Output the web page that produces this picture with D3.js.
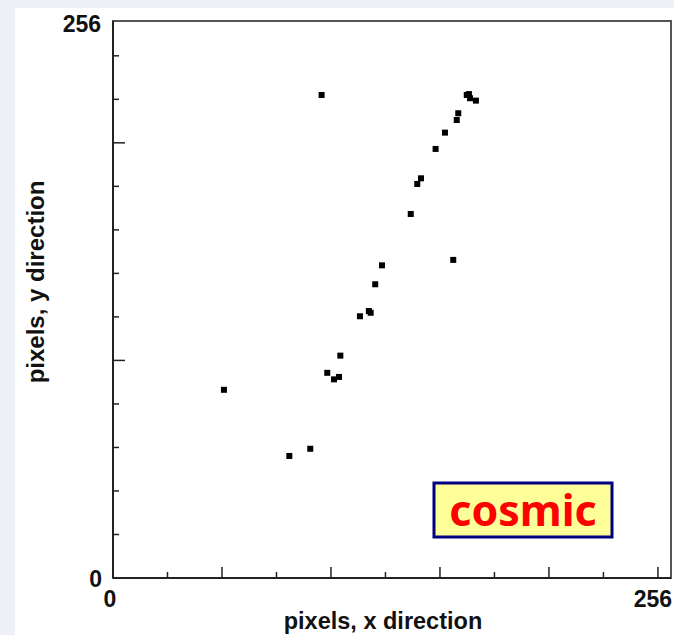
<!DOCTYPE html>
<html lang="en">
<head>
<meta charset="UTF-8">
<script src="https://cdn.jsdelivr.net/npm/d3@7"></script>
<style>
  body { margin: 0; background: #eef0f6; }
  .tick-label, .axis-title { font-family: "Liberation Sans", Arial, sans-serif; font-weight: bold; fill: #111; }
  .tag { font-family: "Noto Sans", "DejaVu Sans", sans-serif; font-weight: bold; fill: #ff0000; }
</style>
</head>
<body>
<script>
// hit positions (pixel units, 0..256)
var hitX = [95.7, 50.9, 80.9, 90.5, 98.3, 101.4, 103.7, 104.3, 113.3, 117.4, 118.2, 120.3,
            123.4, 136.6, 139.6, 141.3, 148.0, 152.3, 156.1, 157.7, 158.4, 162.3, 163.3, 163.8, 166.5];
var hitY = [222.0, 86.5, 56.1, 59.4, 94.3, 91.3, 92.4, 102.2, 120.3, 122.7, 121.9, 135.0,
            143.7, 167.3, 181.1, 183.7, 197.2, 204.7, 146.2, 210.5, 213.6, 222.0, 222.4, 220.5, 219.4];

var xTicks = d3.range(0, 251, 25);
var yTicks = d3.range(0, 241, 20);
var xMajor = [50, 100, 150, 200, 250];
var yMajor = [100, 200];
var tagText = "cosmic";

var W = 674, H = 635;
var svg = d3.select("body").append("svg").attr("width", W).attr("height", H);

// page card behind the chart
svg.append("rect").attr("x", 15).attr("y", 8).attr("width", W - 15).attr("height", H - 8).attr("fill", "#fff");

// plot frame (note: "top" is reserved on window, so use frame* names)
var frameL = 113, frameR = 671, frameT = 21, frameB = 578;
var x = d3.scaleLinear().domain([0, 256]).range([frameL, frameR]);
var y = d3.scaleLinear().domain([0, 256]).range([frameB, frameT]);

svg.append("rect").attr("x", frameL).attr("y", frameT)
   .attr("width", frameR - frameL).attr("height", frameB - frameT)
   .attr("fill", "none").attr("stroke", "#555").attr("stroke-width", 2);
svg.append("line").attr("x1", frameL).attr("x2", frameL).attr("y1", frameT).attr("y2", frameB)
   .attr("stroke", "#222").attr("stroke-width", 2);
svg.append("line").attr("x1", frameL).attr("x2", frameR).attr("y1", frameB).attr("y2", frameB)
   .attr("stroke", "#222").attr("stroke-width", 2);

// ticks
svg.selectAll(".xt").data(xTicks.slice(1)).enter().append("line")
   .attr("x1", d => x(d)).attr("x2", d => x(d))
   .attr("y1", frameB).attr("y2", d => frameB - (xMajor.indexOf(d) >= 0 ? 11 : 6))
   .attr("stroke", "#222").attr("stroke-width", 1.5);
svg.selectAll(".yt").data(yTicks.slice(1)).enter().append("line")
   .attr("y1", d => y(d)).attr("y2", d => y(d))
   .attr("x1", frameL).attr("x2", d => frameL + (yMajor.indexOf(d) >= 0 ? 12 : 6))
   .attr("stroke", "#222").attr("stroke-width", 1.5);

// tick labels
svg.append("text").attr("class", "tick-label").attr("x", frameL - 12).attr("y", y(256) + 11)
   .attr("text-anchor", "end").attr("font-size", 23).text("256");
svg.append("text").attr("class", "tick-label").attr("x", frameL - 11).attr("y", y(0) + 9)
   .attr("text-anchor", "end").attr("font-size", 23).text("0");
svg.append("text").attr("class", "tick-label").attr("x", x(0) - 3).attr("y", frameB + 29)
   .attr("text-anchor", "middle").attr("font-size", 23).text("0");
svg.append("text").attr("class", "tick-label").attr("x", frameR + 1).attr("y", frameB + 29)
   .attr("text-anchor", "end").attr("font-size", 23).text("256");

// axis titles
svg.append("text").attr("class", "axis-title").attr("x", 383).attr("y", 629)
   .attr("text-anchor", "middle").attr("font-size", 23.5).text("pixels, x direction");
svg.append("text").attr("class", "axis-title")
   .attr("transform", "translate(44,282) rotate(-90)")
   .attr("text-anchor", "middle").attr("font-size", 24).text("pixels, y direction");

// hits
svg.selectAll(".hit").data(hitX).enter().append("rect")
   .attr("class", "hit")
   .attr("x", d => x(d) - 3).attr("y", (d, i) => y(hitY[i]) - 3)
   .attr("width", 6).attr("height", 6).attr("fill", "#000");

// label box
svg.append("rect").attr("x", 434).attr("y", 483).attr("width", 178).attr("height", 54)
   .attr("fill", "#ffff99").attr("stroke", "#000080").attr("stroke-width", 3);
svg.append("text").attr("class", "tag").attr("x", 523).attr("y", 526)
   .attr("text-anchor", "middle").attr("font-size", 43).text(tagText);
</script>
</body>
</html>
